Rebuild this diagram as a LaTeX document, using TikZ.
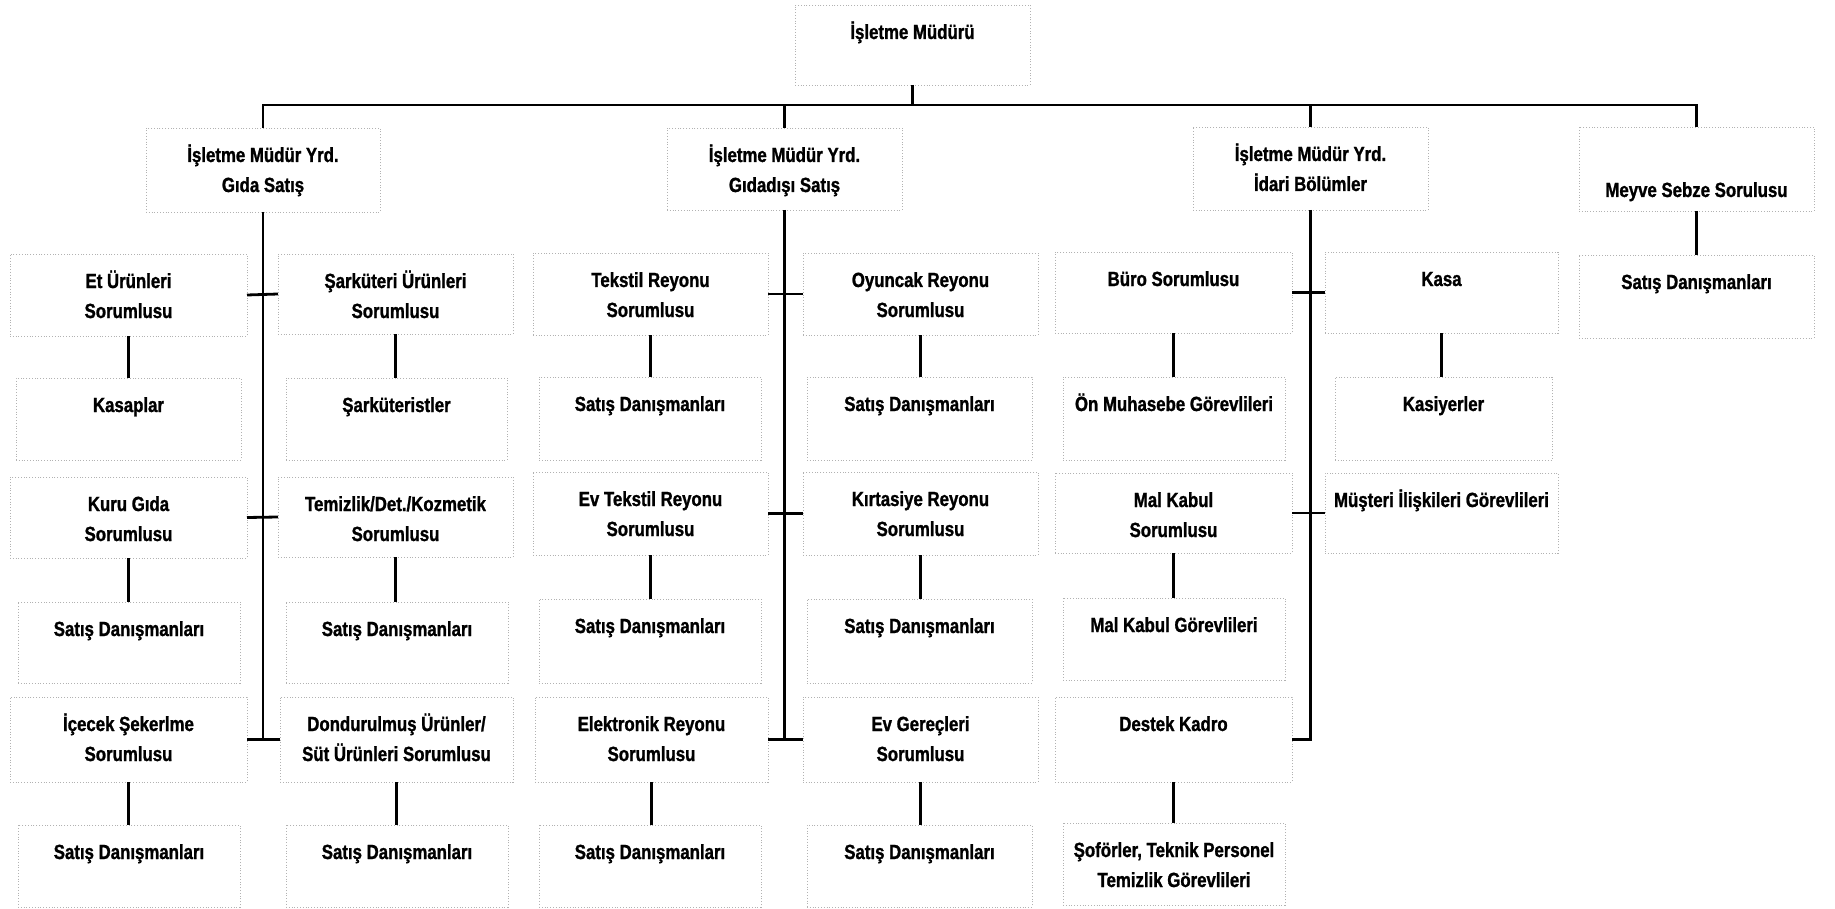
\documentclass[tikz,border=0pt]{standalone}
\usepackage{fontspec}
\setmainfont{Liberation Sans}[FakeStretch=0.82, BoldFeatures={FakeBold=1.2}]
\tikzset{
  obox/.style={draw=gray!60, line width=0.9pt, dash pattern=on 1pt off 1.8pt,
    inner sep=0pt, outer sep=0pt, anchor=north west,
    font=\bfseries\fontsize{20.5}{30}\selectfont},
  conn/.style={line width=2.8pt, draw=black, line join=miter}
}
% [strut] name left top right bottom text
\newcommand\ob[7][34]{%
  \node[obox] (#2) at (#3,#4) {\parbox[t][\dimexpr#6pt-#4pt\relax][t]{\dimexpr#5pt-#3pt\relax}{\centering\rule{0pt}{#1pt}#7\par}};}
% vertical link from parent to child
\newcommand\vl[2]{\draw[conn] (#1.south) -- (#1.south |- #2.north);}
\begin{document}
\begin{tikzpicture}[x=1pt,y=-1pt]
\fill[white] (0,0) rectangle (1835,909);
\useasboundingbox (0,0) rectangle (1835,909);

% level 1 and 2
\ob{top}{795}{5}{1030}{85}{İşletme Müdürü}
\ob{A}{146}{128}{380}{212}{İşletme Müdür Yrd.\\Gıda Satış}
\ob{B}{667}{128}{902}{210}{İşletme Müdür Yrd.\\Gıdadışı Satış}
\ob{C}{1193}{127}{1428}{210}{İşletme Müdür Yrd.\\İdari Bölümler}
\ob[70]{D}{1579}{127}{1814}{211}{Meyve Sebze Sorulusu}

% column 1
\ob{et}{10}{254}{247}{336}{Et Ürünleri\\Sorumlusu}
\ob{kasap}{16}{378}{241}{460}{Kasaplar}
\ob{kuru}{10}{477}{247}{558}{Kuru Gıda\\Sorumlusu}
\ob{sa}{18}{602}{240}{683}{Satış Danışmanları}
\ob{icecek}{10}{697}{247}{782}{İçecek Şekerlme\\Sorumlusu}
\ob{sb}{18}{825}{240}{907}{Satış Danışmanları}

% column 2
\ob{sark}{278}{254}{513}{334}{Şarküteri Ürünleri\\Sorumlusu}
\ob{sarkist}{286}{378}{507}{460}{Şarküteristler}
\ob{temiz}{278}{477}{513}{557}{Temizlik/Det./Kozmetik\\Sorumlusu}
\ob{sc}{286}{602}{508}{683}{Satış Danışmanları}
\ob{dond}{280}{697}{513}{782}{Dondurulmuş Ürünler/\\Süt Ürünleri Sorumlusu}
\ob{sd}{286}{825}{508}{907}{Satış Danışmanları}

% column 3
\ob{tekstil}{533}{253}{768}{335}{Tekstil Reyonu\\Sorumlusu}
\ob{se}{539}{377}{761}{460}{Satış Danışmanları}
\ob{evtek}{533}{472}{768}{555}{Ev Tekstil Reyonu\\Sorumlusu}
\ob{sf}{539}{599}{761}{683}{Satış Danışmanları}
\ob{elek}{535}{697}{768}{782}{Elektronik Reyonu\\Sorumlusu}
\ob{sg}{539}{825}{761}{907}{Satış Danışmanları}

% column 4
\ob{oyun}{803}{253}{1038}{335}{Oyuncak Reyonu\\Sorumlusu}
\ob{sh}{807}{377}{1032}{460}{Satış Danışmanları}
\ob{kirt}{803}{472}{1038}{555}{Kırtasiye Reyonu\\Sorumlusu}
\ob{si}{807}{599}{1032}{683}{Satış Danışmanları}
\ob{evger}{803}{697}{1038}{782}{Ev Gereçleri\\Sorumlusu}
\ob{sj}{807}{825}{1032}{907}{Satış Danışmanları}

% column 5
\ob{buro}{1055}{252}{1292}{333}{Büro Sorumlusu}
\ob{onmuh}{1063}{377}{1285}{460}{Ön Muhasebe Görevlileri}
\ob{malk}{1055}{473}{1292}{553}{Mal Kabul\\Sorumlusu}
\ob{malkg}{1063}{598}{1285}{680}{Mal Kabul Görevlileri}
\ob{destek}{1055}{697}{1292}{782}{Destek Kadro}
\ob{sofor}{1063}{823}{1285}{905}{Şoförler, Teknik Personel\\Temizlik Görevlileri}

% column 6
\ob{kasa}{1325}{252}{1558}{333}{Kasa}
\ob{kasiy}{1335}{377}{1552}{460}{Kasiyerler}
\ob{muster}{1325}{473}{1558}{553}{Müşteri İlişkileri Görevlileri}

% column 7
\ob{sk}{1579}{255}{1814}{338}{Satış Danışmanları}

% top bus
\coordinate (bus) at (913,105);
\draw[conn] (top.south) -- (top.south |- bus);
\draw[conn] (A.north) -- (A.north |- bus) -- (D.north |- bus) -- (D.north);
\draw[conn] (B.north |- bus) -- (B.north);
\draw[conn] (C.north |- bus) -- (C.north);

% trunks
\draw[conn] (A.south) -- (A.south |- icecek.east);
\draw[conn] (et.east) -- (sark.west);
\draw[conn] (kuru.east) -- (temiz.west);
\draw[conn] (icecek.east) -- (dond.west);

\draw[conn] (B.south) -- (B.south |- elek.east);
\draw[conn] (tekstil.east) -- (oyun.west);
\draw[conn] (evtek.east) -- (kirt.west);
\draw[conn] (elek.east) -- (evger.west);

\draw[conn] (C.south) -- (C.south |- destek.east) -- (destek.east);
\draw[conn] (buro.east) -- (kasa.west);
\draw[conn] (malk.east) -- (muster.west);

\vl{D}{sk}

% vertical child links
\vl{et}{kasap}
\vl{kuru}{sa}
\vl{icecek}{sb}
\vl{sark}{sarkist}
\vl{temiz}{sc}
\vl{dond}{sd}
\vl{tekstil}{se}
\vl{evtek}{sf}
\vl{elek}{sg}
\vl{oyun}{sh}
\vl{kirt}{si}
\vl{evger}{sj}
\vl{buro}{onmuh}
\vl{malk}{malkg}
\vl{destek}{sofor}
\vl{kasa}{kasiy}
\end{tikzpicture}
\end{document}
